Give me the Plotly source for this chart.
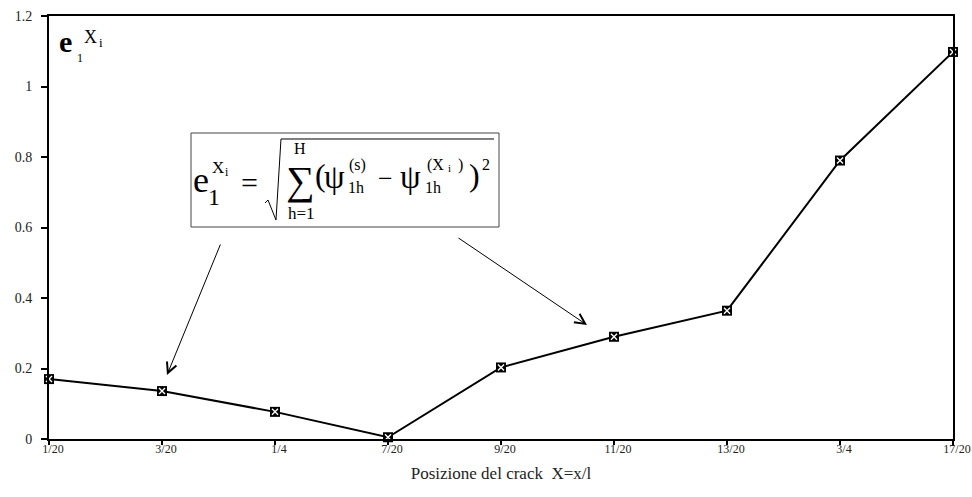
import plotly.graph_objects as go

# ---- data ----
categories = ["1/20", "3/20", "1/4", "7/20", "9/20", "11/20", "13/20", "3/4", "17/20"]
values = [0.17, 0.136, 0.077, 0.005, 0.203, 0.29, 0.364, 0.79, 1.098]
y_ticks = [0, 0.2, 0.4, 0.6, 0.8, 1.0, 1.2]
x_title = "Posizione del crack  X=x/l"

W, H = 972, 497
L, R, T, B = 49, 19, 16, 58
PW, PH = W - L - R, H - T - B
SERIF = "Liberation Serif, Times New Roman, serif"


def px(x):
    return (x - L) / PW


def py(y):
    return (H - B - y) / PH


fig = go.Figure()
fig.add_trace(go.Scatter(
    x=categories, y=values, mode="lines+markers",
    line=dict(color="black", width=2),
    marker=dict(symbol="square", size=10, color="black"),
    cliponaxis=False, showlegend=False, hoverinfo="x+y",
))
fig.add_trace(go.Scatter(
    x=categories, y=values, mode="markers",
    marker=dict(symbol="x-thin", size=6, line=dict(color="white", width=1.4)),
    cliponaxis=False, showlegend=False, hoverinfo="skip",
))

ann = []


def txt(t, x, y, size, bold=False, xa="center"):
    ann.append(dict(
        text=("<b>%s</b>" % t) if bold else t,
        xref="paper", yref="paper", x=px(x), y=py(y),
        xanchor=xa, yanchor="middle", showarrow=False, borderpad=0,
        font=dict(family=SERIF, size=size, color="black"),
    ))


# top-left y label  e_1^{X_i}
txt("e", 65, 42, 30, bold=True)
txt("1", 80, 58, 12)
txt("X", 90, 37, 18)
txt("i", 101, 43, 13)

# formula in box
txt("e", 201, 180, 36)
txt("1", 214, 197, 24)
txt("X", 218, 168, 17)
txt("i", 227, 172, 12)
txt("=", 249, 182, 30)
txt("\u2211", 300, 180, 40)
txt("H", 300, 148, 16)
txt("h=1", 301, 213, 17)
txt("(", 320, 175, 32)
txt("\u03c8", 334, 177, 33)
txt("(s)", 357, 165, 16)
txt("1h", 356, 187, 16)
txt("\u2212", 385, 178, 26)
txt("\u03c8", 410, 177, 33)
txt("(X", 435, 165, 16)
txt("i", 449, 168, 11)
txt(")", 460, 165, 16)
txt("1h", 433, 187, 16)
txt(")", 474, 175, 32)
txt("2", 486, 165, 16)

# arrows
ann.append(dict(xref="paper", yref="paper", x=px(167), y=py(375),
                ax=221 - 167, ay=243 - 375, axref="pixel", ayref="pixel",
                showarrow=True, arrowhead=5, arrowsize=2, arrowwidth=1,
                arrowcolor="black", text=""))
ann.append(dict(xref="paper", yref="paper", x=px(587), y=py(325),
                ax=457 - 587, ay=237 - 325, axref="pixel", ayref="pixel",
                showarrow=True, arrowhead=5, arrowsize=2, arrowwidth=1,
                arrowcolor="black", text=""))

shapes = [
    dict(type="rect", xref="paper", yref="paper",
         x0=px(191), x1=px(499), y0=py(227), y1=py(133),
         line=dict(color="#444", width=1), fillcolor="rgba(0,0,0,0)"),
    dict(type="path", xref="paper", yref="paper",
         path="M %f %f L %f %f L %f %f L %f %f L %f %f" % (
             px(265), py(203), px(268), py(200), px(276), py(220),
             px(281), py(139), px(494), py(139)),
         line=dict(color="black", width=1)),
]

fig.update_layout(
    width=W, height=H,
    margin=dict(l=L, r=R, t=T, b=B, autoexpand=False),
    paper_bgcolor="white", plot_bgcolor="white",
    annotations=ann, shapes=shapes,
    xaxis=dict(
        type="category", range=[0, len(categories) - 1], automargin=False,
        showline=True, linecolor="black", linewidth=2, mirror=True,
        ticks="outside", ticklen=4, tickwidth=1.5, tickcolor="black",
        showgrid=False, zeroline=False, ticklabelstandoff=-6, ticklabelshift=4,
        tickfont=dict(family=SERIF, size=12, color="#222"),
        title=dict(text=x_title, standoff=12,
                   font=dict(family=SERIF, size=17, color="#222")),
    ),
    yaxis=dict(
        range=[0, 1.2], tickvals=y_ticks, automargin=False,
        showline=True, linecolor="black", linewidth=2, mirror=True,
        ticks="outside", ticklen=6, tickwidth=1.5, tickcolor="black",
        showgrid=False, zeroline=False, ticklabelstandoff=6,
        tickfont=dict(family=SERIF, size=14, color="#222"),
    ),
)

fig.write_html("out.html")
